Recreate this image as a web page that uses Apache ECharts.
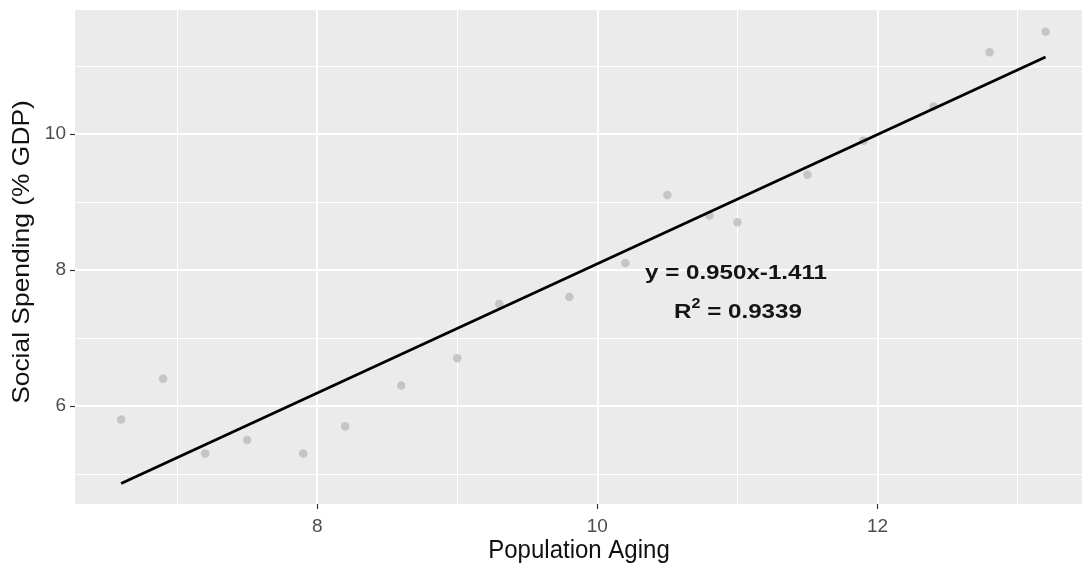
<!DOCTYPE html>
<html>
<head>
<meta charset="utf-8">
<title>Social Spending vs Population Aging</title>
<script src="https://cdn.jsdelivr.net/npm/echarts@6/dist/echarts.min.js"></script>
<style>
  html, body { margin: 0; padding: 0; background: #ffffff; }
  #chart { width: 1088px; height: 572px; }
</style>
</head>
<body>
<div id="chart"></div>
<script>
// Observations: population aging (x) and social spending as % of GDP (y)
const agingValues = [6.6, 6.9, 7.2, 7.5, 7.9, 8.2, 8.6, 9.0, 9.3, 9.8, 10.2, 10.5, 10.8, 11.0, 11.5, 11.9, 12.4, 12.8, 13.2];
const spendingValues = [5.8, 6.4, 5.3, 5.5, 5.3, 5.7, 6.3, 6.7, 7.5, 7.6, 8.1, 9.1, 8.8, 8.7, 9.4, 9.9, 10.4, 11.2, 11.5];

// Linear fit reported on the chart
const fitSlope = 0.950;
const fitIntercept = -1.411;
const fitR2 = 0.9339;

// Axis ranges, tick positions and titles
const xRange = [6.271, 13.46];
const yRange = [4.559, 11.82];
const xMajorTicks = [8, 10, 12];
const xMinorTicks = [7, 9, 11, 13];
const yMajorTicks = [6, 8, 10];
const yMinorTicks = [5, 7, 9, 11];
const xTitle = 'Population Aging';
const yTitle = 'Social Spending (% GDP)';

const points = agingValues.map((x, i) => [x, spendingValues[i]]);
const xMin = Math.min(...agingValues);
const xMax = Math.max(...agingValues);
const fitLine = [xMin, xMax].map(x => [x, fitSlope * x + fitIntercept]);

const gridLine = (axisKey, values, width) => values.map(v => ({
  [axisKey]: v,
  lineStyle: { color: '#ffffff', width: width, type: 'solid' }
}));

const chart = echarts.init(document.getElementById('chart'), null, { renderer: 'canvas' });

const fontFamily = '"Liberation Sans", Arial, sans-serif';
const textStretch = 1.1;

chart.setOption({
  animation: false,
  backgroundColor: '#ffffff',
  grid: {
    left: 75, right: 6, top: 10, bottom: 68,
    show: true, backgroundColor: '#EBEBEB', borderWidth: 0
  },
  xAxis: {
    type: 'value',
    min: xRange[0], max: xRange[1],
    axisLine: { show: false },
    splitLine: { show: false },
    axisTick: { show: true, customValues: xMajorTicks, length: 5, lineStyle: { color: '#333333', width: 1.2 } },
    axisLabel: { customValues: xMajorTicks, color: '#4D4D4D', fontSize: 19, margin: 13, fontFamily: fontFamily }
  },
  yAxis: {
    type: 'value',
    min: yRange[0], max: yRange[1],
    axisLine: { show: false },
    splitLine: { show: false },
    axisTick: { show: true, customValues: yMajorTicks, length: 5, lineStyle: { color: '#333333', width: 1.2 } },
    axisLabel: { customValues: yMajorTicks, color: '#4D4D4D', fontSize: 19, margin: 9, fontFamily: fontFamily }
  },
  series: [
    {
      // panel grid lines, kept on the bottom layer
      type: 'line',
      data: [],
      zlevel: 0,
      z: 1,
      silent: true,
      markLine: {
        silent: true,
        symbol: ['none', 'none'],
        label: { show: false },
        animation: false,
        data: [
          ...gridLine('xAxis', xMinorTicks, 1),
          ...gridLine('yAxis', yMinorTicks, 1),
          ...gridLine('xAxis', xMajorTicks, 2),
          ...gridLine('yAxis', yMajorTicks, 2)
        ]
      }
    },
    {
      type: 'scatter',
      data: points,
      zlevel: 1,
      z: 3,
      symbol: 'circle',
      symbolSize: 8.5,
      itemStyle: { color: '#BBBBBB' }
    },
    {
      type: 'line',
      data: fitLine,
      zlevel: 1,
      z: 4,
      symbol: 'none',
      lineStyle: { color: '#000000', width: 2.8 }
    }
  ],
  graphic: [
    {
      type: 'text',
      zlevel: 1,
      x: 579, y: 551,
      scaleY: textStretch,
      style: {
        text: xTitle,
        align: 'center', verticalAlign: 'middle',
        font: '24px ' + fontFamily,
        fill: '#111111'
      }
    },
    {
      type: 'text',
      zlevel: 1,
      x: 22, y: 252,
      rotation: Math.PI / 2,
      scaleX: textStretch,
      style: {
        text: yTitle,
        align: 'center', verticalAlign: 'middle',
        font: '24px ' + fontFamily,
        fill: '#111111'
      }
    },
    {
      type: 'text',
      zlevel: 1,
      z: 10,
      x: 736, y: 273,
      scaleX: 1.15,
      style: {
        text: 'y = ' + fitSlope.toFixed(3) + 'x' + fitIntercept.toFixed(3),
        align: 'center', verticalAlign: 'middle',
        font: 'bold 21px ' + fontFamily,
        fill: '#141414'
      }
    },
    {
      type: 'text',
      zlevel: 1,
      z: 10,
      x: 738, y: 310,
      scaleX: 1.15,
      style: {
        text: '{r|R}{s|2}{r| = ' + fitR2.toFixed(4) + '}',
        align: 'center', verticalAlign: 'middle',
        rich: {
          r: { font: 'bold 21px ' + fontFamily, fill: '#141414', verticalAlign: 'bottom', lineHeight: 26 },
          s: { font: 'bold 14px ' + fontFamily, fill: '#141414', verticalAlign: 'top', lineHeight: 26 }
        }
      }
    }
  ]
});
</script>
</body>
</html>
